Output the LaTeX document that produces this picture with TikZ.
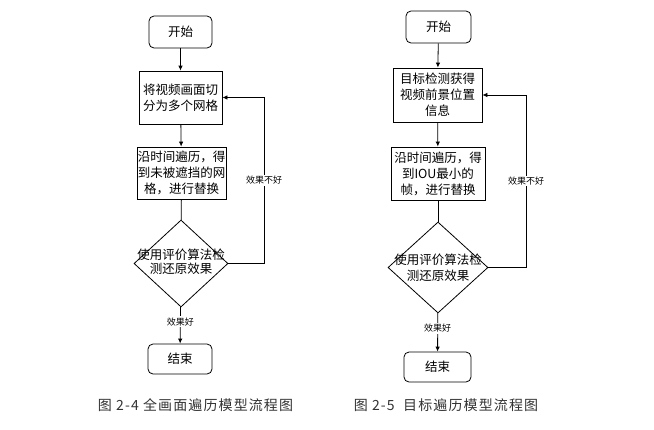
\documentclass[tikz,border=0pt]{standalone}
\usepackage{fontspec}
\setmainfont{Noto Sans CJK SC}
\newfontfamily\capfont[LetterSpace=8]{Noto Sans CJK SC}
\usetikzlibrary{shapes.geometric,arrows.meta}

\begin{document}
\begin{tikzpicture}[x=1pt,y=-1pt,line width=0.8pt,
    startstop/.style={draw, rounded corners=5pt, inner sep=0pt, font=\fontsize{12.5}{15}\selectfont},
    process/.style={draw, align=center, inner sep=0pt, font=\fontsize{12.5}{16}\selectfont},
    decision/.style={draw, diamond, inner sep=0pt},
    dtext/.style={align=center, font=\fontsize{12.5}{14}\selectfont},
    flow/.style={-{Latex[length=5pt,width=4.5pt]}},
    note/.style={fill=white, inner sep=1pt, font=\fontsize{9}{10}\selectfont},
    caption/.style={font=\capfont\fontsize{14}{16}\selectfont, text=black!80}]
    \useasboundingbox (0,0) rectangle (654,429);

% first chart
    \node[startstop, minimum width=63, minimum height=32] (S1) at (180.5,32) {开始};
    \node[process, minimum width=83, minimum height=53] (P11) at (180.5,97.5) {将视频画面切\\分为多个网格};
    \node[process, minimum width=89, minimum height=52] (P12) at (181.5,173) {沿时间遍历，得\\到未被遮挡的网\\格，进行替换};
    \node[decision, minimum width=94, minimum height=87] (D1) at (181,263.5) {};
    \node[dtext] (T1) at (181,262) {使用评价算法检\\测还原效果};
    \node[startstop, minimum width=64, minimum height=30] (E1) at (180,359) {结束};
    \coordinate (C1) at (264,263.5);

    \draw[flow] (S1) -- (P11);
    \draw[flow] (P11) -- (P12);
    \draw (P12) -- (D1);
    \draw[flow] (D1) -- (E1) node[note, pos=0.4] {效果好};
    \draw[flow] (D1.east) -- (C1) -- (C1 |- P11.east) node[note, midway] {效果不好} -- (P11.east);

    \node[caption] (L1) at (195.5,405) {图 2-4 全画面遍历模型流程图};

% second chart
    \node[startstop, minimum width=65, minimum height=32] (S2) at (438.5,27) {开始};
    \node[process, minimum width=89, minimum height=54] (P21) at (437.5,95) {目标检测获得\\视频前景位置\\信息};
    \node[process, minimum width=94, minimum height=53] (P22) at (438,173.5) {沿时间遍历，得\\到IOU最小的\\帧，进行替换};
    \node[decision, minimum width=100, minimum height=91] (D2) at (438,267.5) {};
    \node[dtext, font=\fontsize{12.5}{16}\selectfont] (T2) at (D2) {使用评价算法检\\测还原效果};
    \node[startstop, minimum width=67, minimum height=30] (E2) at (437.5,367) {结束};
    \coordinate (C2) at (526,267.5);

    \draw[flow] (S2) -- (P21);
    \draw[flow] (P21) -- (P22);
    \draw (P22) -- (D2);
    \draw[flow] (D2) -- (E2) node[note, pos=0.4] {效果好};
    \draw[flow] (D2.east) -- (C2) -- (C2 |- P21.east) node[note, midway] {效果不好} -- (P21.east);

    \node[caption] (L2) at (446,405) {图 2-5\ \ 目标遍历模型流程图};

\end{tikzpicture}
\end{document}
